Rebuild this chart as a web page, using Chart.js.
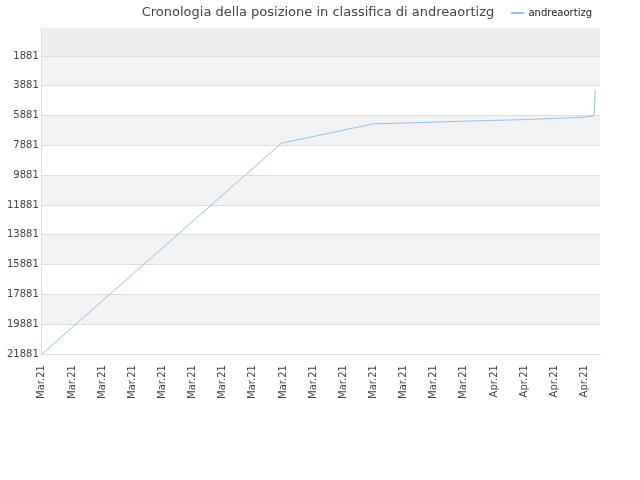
<!DOCTYPE html><html><head><meta charset="utf-8">
<script src="https://cdn.jsdelivr.net/npm/chart.js@4"></script>
<style>body{margin:0;background:#fff}#w{width:640px;height:480px;position:relative}
#t{position:absolute;top:4px;left:0;width:636px;text-align:center;font:13px 'DejaVu Sans';color:#444}</style></head><body>
<div id="w"><canvas id="c" width="640" height="480"></canvas><div id="t">Cronologia della posizione in classifica di andreaortizg</div></div>
<script>
const tickLabels=["Mar.21","Mar.21","Mar.21","Mar.21","Mar.21","Mar.21","Mar.21","Mar.21","Mar.21","Mar.21","Mar.21","Mar.21","Mar.21","Mar.21","Mar.21","Apr.21","Apr.21","Apr.21","Apr.21"];
const xPos=[0,7.95,11,12,14,16,18,18.3,18.33,18.36];
const ranks=[21881,7730,6430,6380,6250,6150,5980,5900,5700,4130];
const yTicks=[1881,3881,5881,7881,9881,11881,13881,15881,17881,19881,21881];
const bands={id:'bands',beforeDraw(ch){const {ctx,chartArea:a,scales:{y}}=ch;ctx.save();
 ctx.fillStyle='#eeeeee';ctx.fillRect(a.left,a.top,a.width,y.getPixelForValue(1881)-a.top);
 ctx.fillStyle='#f3f3f3';for(let i=0;i<yTicks.length-1;i+=2){const t=y.getPixelForValue(yTicks[i]),b=y.getPixelForValue(yTicks[i+1]);ctx.fillRect(a.left,t,a.width,b-t);}
 ctx.restore();}};
new Chart(document.getElementById('c'),{type:'line',
 data:{datasets:[{label:'andreaortizg',data:xPos.map((x,i)=>({x,y:ranks[i]})),borderColor:'#8ec0f0',backgroundColor:'#8ec0f0',borderWidth:1,pointRadius:0,tension:0}]},
 options:{responsive:false,animation:false,devicePixelRatio:1,
  layout:{padding:{left:4,right:40,top:0,bottom:78}},
  plugins:{legend:{position:'top',align:'end',labels:{boxWidth:12,boxHeight:1,padding:8,color:'#222',font:{family:'DejaVu Sans',size:10}}},tooltip:{enabled:false}},
  scales:{x:{type:'linear',min:0,max:18.52,afterBuildTicks(s){s.ticks=tickLabels.map((_,i)=>({value:i}));},
    ticks:{autoSkip:false,maxRotation:90,minRotation:90,color:'#444',font:{family:'DejaVu Sans',size:10},callback:(v)=>tickLabels[v]},
    grid:{display:false},border:{color:'#ddd'}},
   y:{reverse:true,min:0,max:21881,afterBuildTicks(s){s.ticks=yTicks.map(v=>({value:v}));},
    ticks:{autoSkip:false,color:'#444',font:{family:'DejaVu Sans',size:10},callback:(v)=>String(v)},grid:{color:'#dddddd',drawTicks:false},border:{color:'#ddd'}}}},
 plugins:[bands]});
</script></body></html>
